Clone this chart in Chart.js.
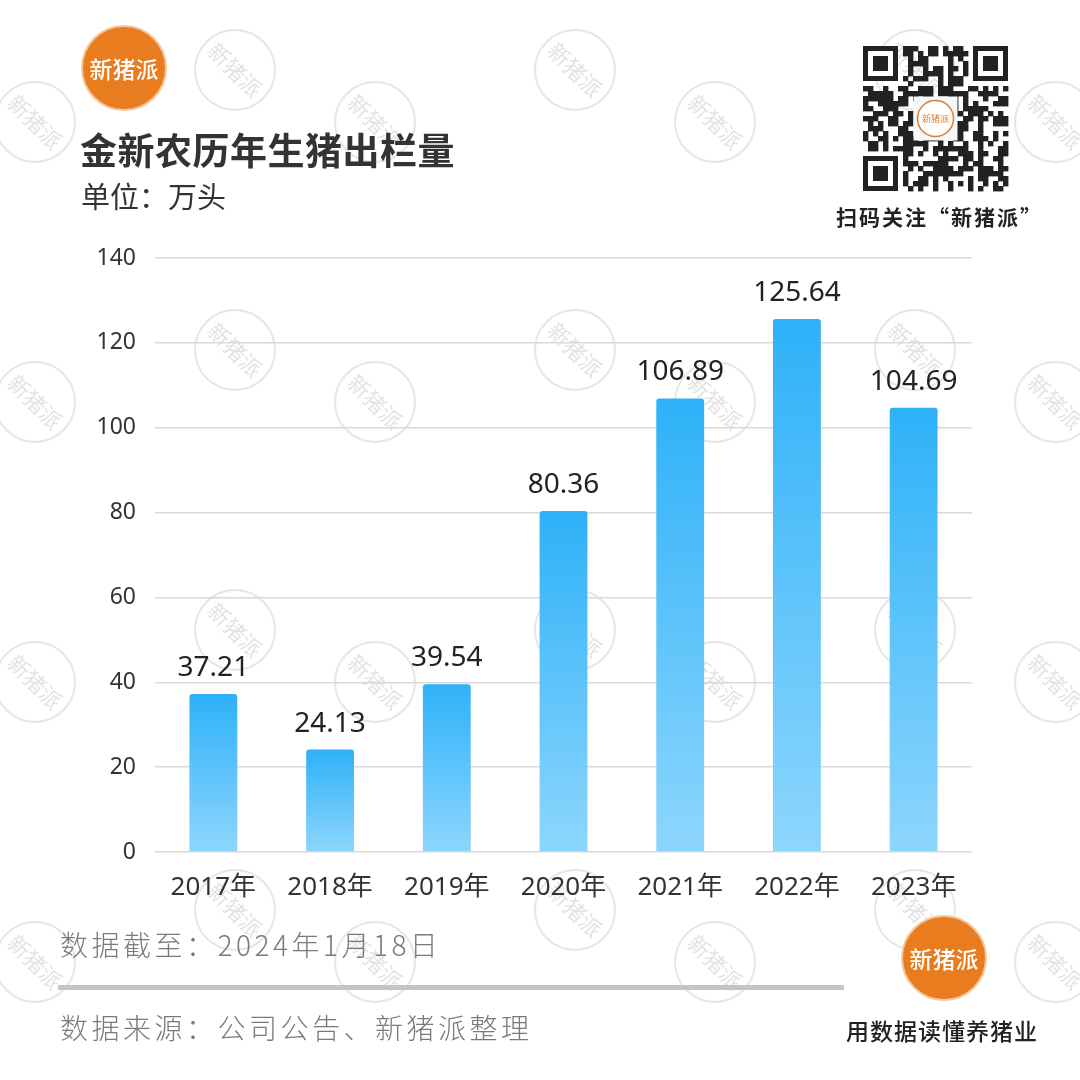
<!DOCTYPE html>
<html>
<head>
<meta charset="utf-8">
<script src="https://cdn.jsdelivr.net/npm/chart.js@4/dist/chart.umd.min.js"></script>
<style>
  html, body { margin: 0; padding: 0; background: #fff; }
  body { width: 1080px; height: 1080px; position: relative; overflow: hidden;
         font-family: "Noto Sans CJK SC", "Noto Sans", sans-serif; }
  #wm, #deco { position: absolute; left: 0; top: 0; }
  #chartBox { position: absolute; left: 0; top: 0; width: 1080px; height: 1080px; }
  .abs { position: absolute; white-space: nowrap; }
  .title { left: 80px; top: 122px; font-size: 37px; font-weight: 700; color: #333; letter-spacing: 0.5px; }
  .unit { left: 81px; top: 174px; font-size: 29px; color: #333; }
  .qrText { left: 836px; top: 201px; font-size: 21px; font-weight: 700; color: #222; letter-spacing: 2px; }
  .foot { left: 60px; font-size: 28px; color: #7a7a7a; font-weight: 300; letter-spacing: 3.5px; }
  .line { left: 58px; top: 985px; width: 786px; height: 5px; background: #c4c4c4; }
  .slogan { left: 846px; top: 1013px; font-size: 23px; color: #222; font-weight: 500; letter-spacing: 1px; }
</style>
</head>
<body>
<canvas id="wm" width="1080" height="1080"></canvas>
<div id="chartBox"><canvas id="chart"></canvas></div>
<canvas id="deco" width="1080" height="1080"></canvas>
<div class="abs title">金新农历年生猪出栏量</div>
<div class="abs unit">单位：万头</div>
<div class="abs qrText">扫码关注“新猪派”</div>
<div class="abs foot" style="top:924px">数据截至：2024年1月18日</div>
<div class="abs line"></div>
<div class="abs foot" style="top:1007px">数据来源：公司公告、新猪派整理</div>
<div class="abs slogan">用数据读懂养猪业</div>

<script>
// data
const years = ['2017年', '2018年', '2019年', '2020年', '2021年', '2022年', '2023年'];
const output = [37.21, 24.13, 39.54, 80.36, 106.89, 125.64, 104.69];
const yTicks = [0, 20, 40, 60, 80, 100, 120, 140];

const numFont = '"Noto Sans", "Noto Sans CJK SC", sans-serif';

// watermark "新猪派" circles
function drawWatermarks() {
    const ctx = document.getElementById('wm').getContext('2d');
    const pts = [];
    for (let row = 0; row < 4; row++) {
        const y = 70 + row * 280;
        for (let col = 0; col < 4; col++) {
            pts.push([-105 + col * 340, y]);
            pts.push([35 + col * 340, y + 52]);
        }
    }
    pts.forEach(([x, y]) => {
        ctx.save();
        ctx.translate(x, y);
        ctx.strokeStyle = '#e6e6e6';
        ctx.lineWidth = 2;
        ctx.beginPath();
        ctx.arc(0, 0, 40, 0, Math.PI * 2);
        ctx.stroke();
        ctx.rotate(Math.PI / 4);
        ctx.fillStyle = '#e3e3e3';
        ctx.font = '22px "Noto Sans CJK SC"';
        ctx.textAlign = 'center';
        ctx.textBaseline = 'middle';
        ctx.fillText('新猪派', 0, 0);
        ctx.restore();
    });
}

// orange logo
function drawLogo(ctx, cx, cy, r, fs) {
    ctx.save();
    ctx.beginPath();
    ctx.arc(cx, cy, r, 0, Math.PI * 2);
    ctx.fillStyle = '#e97c1f';
    ctx.fill();
    ctx.lineWidth = 2;
    ctx.strokeStyle = '#f6c79b';
    ctx.stroke();
    ctx.fillStyle = '#fff';
    ctx.font = '500 ' + fs + 'px "Noto Sans CJK SC"';
    ctx.textAlign = 'center';
    ctx.textBaseline = 'middle';
    ctx.fillText('新猪派', cx, cy + 1);
    ctx.restore();
}

// QR-like block (decoration only)
function drawQR(ctx, x0, y0, size) {
    const n = 29, m = size / n;
    ctx.fillStyle = '#222';
    let seed = 7;
    const rnd = () => { seed = (seed * 9301 + 49297) % 233280; return seed / 233280; };
    const inFinder = (i, j) => (i < 8 && j < 8) || (i >= n - 8 && j < 8) || (i < 8 && j >= n - 8);
    for (let i = 0; i < n; i++) {
        for (let j = 0; j < n; j++) {
            if (inFinder(i, j)) continue;
            if (rnd() < 0.5) ctx.fillRect(x0 + i * m, y0 + j * m, m + 0.4, m + 0.4);
        }
    }
    [[0, 0], [n - 7, 0], [0, n - 7]].forEach(([i, j]) => {
        const x = x0 + i * m, y = y0 + j * m;
        ctx.fillStyle = '#222';
        ctx.fillRect(x, y, 7 * m, 7 * m);
        ctx.fillStyle = '#fff';
        ctx.fillRect(x + m, y + m, 5 * m, 5 * m);
        ctx.fillStyle = '#222';
        ctx.fillRect(x + 2 * m, y + 2 * m, 3 * m, 3 * m);
    });
    const c = x0 + size / 2, cy = y0 + size / 2;
    ctx.fillStyle = '#f4f7fb';
    ctx.fillRect(c - 22, cy - 22, 44, 44);
    ctx.beginPath();
    ctx.arc(c, cy, 18, 0, Math.PI * 2);
    ctx.fillStyle = '#fff';
    ctx.fill();
    ctx.strokeStyle = '#e97c1f';
    ctx.lineWidth = 1.5;
    ctx.stroke();
    ctx.fillStyle = '#e97c1f';
    ctx.font = '9px "Noto Sans CJK SC"';
    ctx.textAlign = 'center';
    ctx.textBaseline = 'middle';
    ctx.fillText('新猪派', c, cy);
}

drawWatermarks();
const deco = document.getElementById('deco').getContext('2d');
drawLogo(deco, 124, 68, 42, 23);
drawLogo(deco, 944, 958, 42, 23);
drawQR(deco, 863, 46, 145);

// bar gradient per bar
function barGradient(context) {
    const chart = context.chart;
    const area = chart.chartArea;
    if (!area || context.type !== 'data') return '#39b5f8';
    const yScale = chart.scales.y;
    const top = yScale.getPixelForValue(context.parsed.y);
    const g = chart.ctx.createLinearGradient(0, top, 0, yScale.getPixelForValue(0));
    g.addColorStop(0, '#2eb1f8');
    g.addColorStop(1, '#8dd6fd');
    return g;
}

// value labels above bars
const valueLabels = {
    id: 'valueLabels',
    afterDatasetsDraw(chart) {
        const ctx = chart.ctx;
        const meta = chart.getDatasetMeta(0);
        ctx.save();
        ctx.fillStyle = '#222';
        ctx.font = '28px ' + numFont;
        ctx.textAlign = 'center';
        ctx.textBaseline = 'bottom';
        meta.data.forEach((bar, i) => {
            ctx.fillText(output[i].toFixed(2), bar.x, bar.y - 12);
        });
        ctx.restore();
    }
};

new Chart(document.getElementById('chart'), {
    type: 'bar',
    data: {
        labels: years,
        datasets: [{
            data: output,
            backgroundColor: barGradient,
            borderRadius: { topLeft: 3, topRight: 3 },
            borderSkipped: 'bottom',
            barPercentage: 0.41,
            categoryPercentage: 1
        }]
    },
    options: {
        responsive: true,
        maintainAspectRatio: false,
        animation: false,
        layout: { padding: { left: 0, right: 108, top: 258, bottom: 168 } },
        plugins: { legend: { display: false }, tooltip: { enabled: false } },
        scales: {
            x: {
                grid: { display: false, drawTicks: false },
                border: { display: false },
                ticks: { color: '#333', font: { size: 26, family: numFont }, padding: 20 },
                afterFit(axis) { axis.height = 60; }
            },
            y: {
                min: 0,
                max: 140,
                afterBuildTicks(axis) { axis.ticks = yTicks.map(v => ({ value: v })); },
                grid: { color: '#d9d9d9', lineWidth: 1.5, drawTicks: false },
                border: { display: false },
                ticks: { color: '#333', font: { size: 23, family: numFont }, padding: 19 },
                afterFit(axis) { axis.width = 155; }
            }
        }
    },
    plugins: [valueLabels]
});
</script>
</body>
</html>
